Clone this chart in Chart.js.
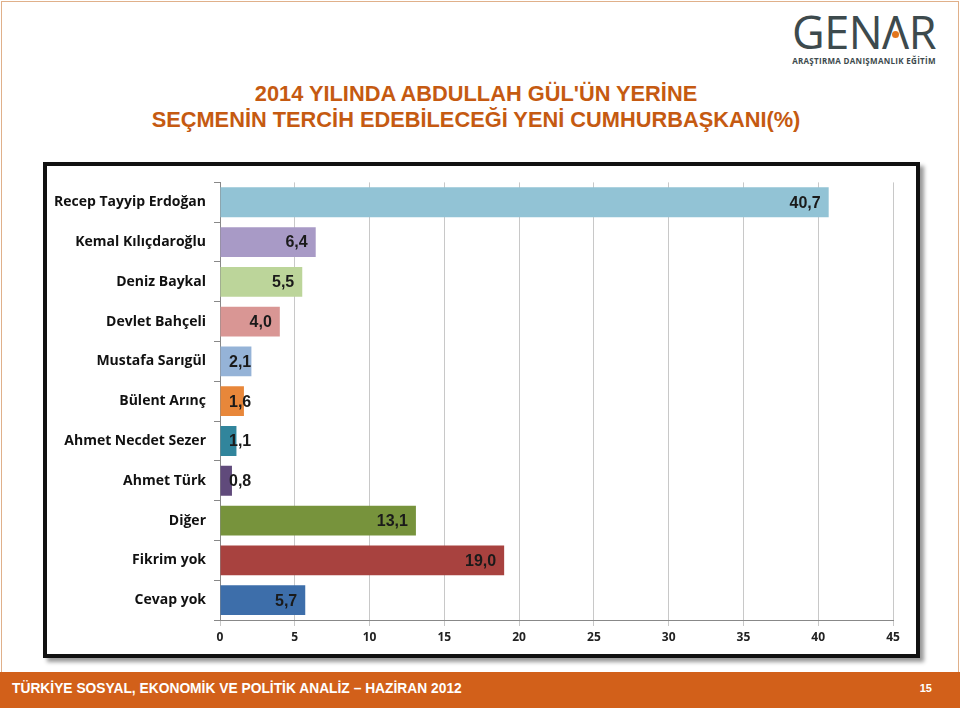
<!DOCTYPE html>
<html>
<head>
<meta charset="utf-8">
<script src="https://cdn.jsdelivr.net/npm/chart.js@4"></script>
<style>
  body { margin: 0; width: 960px; height: 708px; position: relative; background: #fff; font-family: "Liberation Sans", Arial, sans-serif; overflow: hidden; }
  #page { position: absolute; left: 1px; top: 1px; width: 956px; height: 705px; border: 1px solid #e0b08a; }
  #logo { position: absolute; left: 786px; top: 8px; width: 156px; text-align: center; color: #3d4a4d; }
  #logo .big { font-family: "Open Sans", sans-serif; font-size: 45px; line-height: 48px; letter-spacing: -0.5px; }
  #logo .lam { position: relative; }
  #logo .dot { position: absolute; left: 50%; top: 30px; width: 7px; height: 7px; margin-left: -3px; border-radius: 50%; background: #e2761e; }
  #logo .small { font-family: "Open Sans", sans-serif; font-weight: bold; font-size: 8px; letter-spacing: 0.3px; margin-top: -1px; }
  #title { position: absolute; left: 0; width: 952px; top: 81px; text-align: center; color: #c55a11; font-weight: bold; font-size: 21.8px; line-height: 26px; }
  #box { position: absolute; left: 43px; top: 162px; width: 869px; height: 488px; border: 4px solid #111; background: #fff; box-shadow: 4px 4px 4px #999; }
  #footer { position: absolute; left: 0; top: 672px; width: 960px; height: 36px; background: #d2601a; color: #fff; font-weight: bold; font-size: 13.8px; }
  #footer .l { position: absolute; left: 12px; top: 9px; }
  #footer .r { position: absolute; right: 28px; top: 10px; font-size: 11px; }
</style>
</head>
<body>
<div id="page"></div>
<div id="logo"><div class="big">GEN<span class="lam">Λ<span class="dot"></span></span>R</div><div class="small">ARAŞTIRMA DANIŞMANLIK EĞİTİM</div></div>
<div id="title">2014 YILINDA ABDULLAH GÜL'ÜN YERİNE<br>SEÇMENİN TERCİH EDEBİLECEĞİ YENİ CUMHURBAŞKANI(%)</div>
<div id="box"><canvas id="myChart" width="869" height="488"></canvas></div>
<div id="footer"><span class="l">TÜRKİYE SOSYAL, EKONOMİK VE POLİTİK ANALİZ – HAZİRAN 2012</span><span class="r">15</span></div>
<script>
const categories = ["Recep Tayyip Erdoğan", "Kemal Kılıçdaroğlu", "Deniz Baykal", "Devlet Bahçeli", "Mustafa Sarıgül", "Bülent Arınç", "Ahmet Necdet Sezer", "Ahmet Türk", "Diğer", "Fikrim yok", "Cevap yok"];
const values = [40.7, 6.4, 5.5, 4.0, 2.1, 1.6, 1.1, 0.8, 13.1, 19.0, 5.7];
const colors = ["#92c3d5", "#a89ac6", "#bcd59a", "#d99694", "#95b3d7", "#e8873a", "#31859c", "#604a7b", "#77933c", "#a8423f", "#3d6eaa"];
const xTicks = [0, 5, 10, 15, 20, 25, 30, 35, 40, 45];

const labelFont = "bold 16px 'Liberation Sans', Arial, sans-serif";

// value labels at bar end, pushed right when the bar is too short
const barLabels = {
  id: "barLabels",
  afterDatasetsDraw(chart) {
    const ctx = chart.ctx;
    const meta = chart.getDatasetMeta(0);
    const x0 = chart.scales.x.getPixelForValue(0);
    ctx.save();
    ctx.font = labelFont;
    ctx.fillStyle = "#1a1a1a";
    ctx.textAlign = "right";
    ctx.textBaseline = "middle";
    meta.data.forEach((bar, i) => {
      const txt = values[i].toFixed(1).replace(".", ",");
      const w = ctx.measureText(txt).width;
      const x = Math.max(bar.x - 8, x0 + 9 + w);
      ctx.fillText(txt, x, bar.y + 1);
    });
    ctx.restore();
  },
};

const config = {
  type: "bar",
  data: {
    labels: categories,
    datasets: [
      {
        data: values,
        backgroundColor: colors,
        borderWidth: 0,
        barPercentage: 0.75,
        categoryPercentage: 1,
      },
    ],
  },
  options: {
    indexAxis: "y",
    responsive: false,
    animation: false,
    layout: { padding: { top: 7, right: 23, left: 0, bottom: 0 } },
    plugins: { legend: { display: false }, tooltip: { enabled: false } },
    scales: {
      x: {
        min: 0,
        max: 45,
        afterBuildTicks: (axis) => { axis.ticks = xTicks.map((v) => ({ value: v })); },
        grid: { color: "#c8c8c8", tickLength: 6, drawTicks: true },
        border: { color: "#888" },
        ticks: { color: "#222", font: { family: "'Open Sans', sans-serif", weight: "bold", size: 12 }, padding: 4 },
        afterFit: (axis) => { axis.height = 34; },
      },
      y: {
        grid: { display: true, offset: true, drawOnChartArea: false, tickLength: 6, color: "#888" },
        border: { color: "#888" },
        ticks: { color: "#111", font: { family: "'Open Sans', sans-serif", weight: "bold", size: 14 }, padding: 8 },
        afterFit: (axis) => { axis.width = 173; },
      },
    },
  },
  plugins: [barLabels],
};

var myChart = new Chart(document.getElementById("myChart"), config);
</script>
</body>
</html>
